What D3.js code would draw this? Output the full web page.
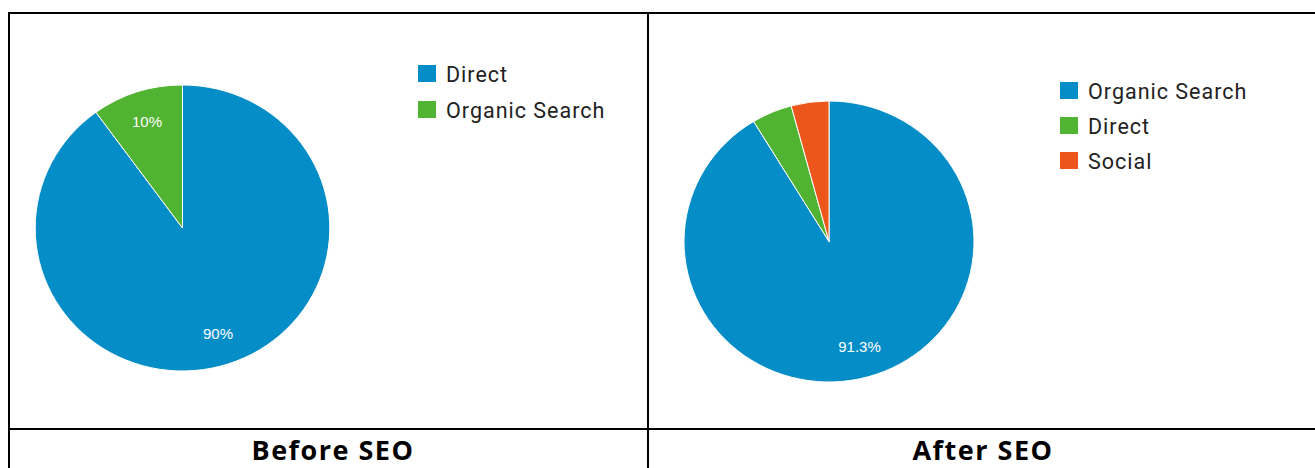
<!DOCTYPE html>
<html>
<head>
<meta charset="utf-8">
<script src="https://cdn.jsdelivr.net/npm/d3@7"></script>
<style>
  html, body { margin: 0; padding: 0; background: #fff; }
  svg { display: block; }
</style>
</head>
<body>
<svg id="chart"></svg>
<script>
const PALETTE = ['#058dc7', '#50b432', '#ed561b'];

const beforeLabels = ['Direct', 'Organic Search'];
const beforeValues = [90, 10];

const afterLabels = ['Organic Search', 'Direct', 'Social'];
const afterValues = [91.3, 4.5, 4.2];

const captions = ['Before SEO', 'After SEO'];

const W = 1315;
const H = 468;

const svg = d3.select('#chart').attr('width', W).attr('height', H);

// table grid
const grid = svg.append('g').attr('stroke', '#000').attr('stroke-width', 2);
grid.append('line').attr('x1', 8).attr('x2', W).attr('y1', 13).attr('y2', 13);
grid.append('line').attr('x1', 8).attr('x2', W).attr('y1', 429).attr('y2', 429);
grid.append('line').attr('x1', 9).attr('x2', 9).attr('y1', 12).attr('y2', H);
grid.append('line').attr('x1', 648).attr('x2', 648).attr('y1', 12).attr('y2', H);

function drawPie(labels, values, opt) {
  const data = labels.map((label, i) => ({ label, value: values[i] }));
  const total = d3.sum(values);
  const pie = d3.pie().sort(null).value((d) => d.value);
  const arc = d3.arc().innerRadius(0).outerRadius(opt.r);
  const labelArc = d3.arc().innerRadius(opt.r * 0.78).outerRadius(opt.r * 0.78);
  const color = d3.scaleOrdinal().domain(labels).range(PALETTE);

  const g = svg.append('g').attr('transform', `translate(${opt.cx},${opt.cy})`);
  const arcs = pie(data);

  // source screenshot is slightly stretched horizontally
  g.append('g')
    .attr('transform', `scale(${opt.sx},1)`)
    .selectAll('path')
    .data(arcs)
    .join('path')
    .attr('d', arc)
    .attr('fill', (d) => color(d.data.label))
    .attr('stroke', '#fff')
    .attr('stroke-width', 1)
    .attr('vector-effect', 'non-scaling-stroke');

  g.selectAll('text')
    .data(arcs.filter((d) => d.data.value / total >= 0.08))
    .join('text')
    .attr('transform', (d) => {
      const [x, y] = labelArc.centroid(d);
      return `translate(${x * opt.sx},${y})`;
    })
    .attr('text-anchor', 'middle')
    .attr('dy', '0.35em')
    .attr('fill', '#fff')
    .attr('font-family', 'Arial, "Liberation Sans", sans-serif')
    .attr('font-size', 15)
    .text((d) => {
      const p = (d.data.value / total) * 100;
      return (Number.isInteger(p) ? p : p.toFixed(1)) + '%';
    });

  const lg = svg.append('g').attr('transform', `translate(${opt.lx},${opt.ly})`);
  const rows = lg.selectAll('g')
    .data(labels)
    .join('g')
    .attr('transform', (d, i) => `translate(0,${i * opt.step})`);
  rows.append('rect')
    .attr('x', 0).attr('y', -9)
    .attr('width', 18).attr('height', 17)
    .attr('fill', (d) => color(d));
  rows.append('text')
    .attr('x', 28)
    .attr('dy', '0.36em')
    .attr('fill', '#222')
    .attr('font-family', 'Roboto, Arial, sans-serif')
    .attr('font-size', 21.5)
    .attr('letter-spacing', 1)
    .text((d) => d);
}

drawPie(beforeLabels, beforeValues, { cx: 182.5, cy: 228, r: 143, sx: 1.03, lx: 418, ly: 74, step: 36 });
drawPie(afterLabels, afterValues, { cx: 829, cy: 241.5, r: 140.5, sx: 1.032, lx: 1060, ly: 91, step: 35 });

svg.selectAll('text.caption')
  .data(captions)
  .join('text')
  .attr('class', 'caption')
  .attr('x', (d, i) => (i === 0 ? 333 : 983))
  .attr('y', 460)
  .attr('text-anchor', 'middle')
  .attr('font-family', '"Open Sans", Arial, sans-serif')
  .attr('font-weight', 700)
  .attr('font-size', 27)
  .attr('letter-spacing', 1.5)
  .attr('fill', '#000')
  .text((d) => d);
</script>
</body>
</html>
